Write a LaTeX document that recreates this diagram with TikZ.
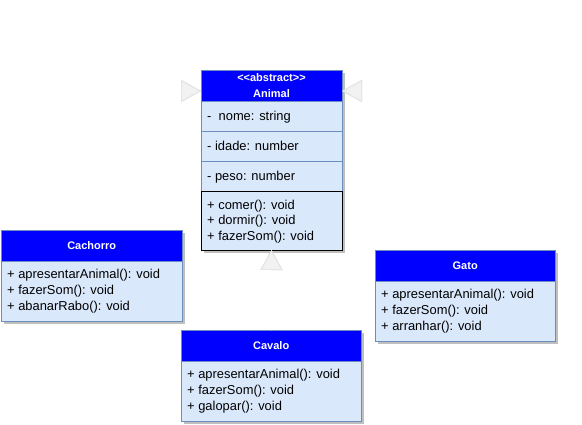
\documentclass[tikz,border=0pt]{standalone}
\usepackage{fontspec}
\setmainfont{Liberation Sans}
\usetikzlibrary{arrows.meta,shadows}
\definecolor{hdrblue}{HTML}{0000FF}
\definecolor{bodyfill}{HTML}{DAE8FC}
\definecolor{bodyline}{HTML}{6C8EBF}
\definecolor{tipfill}{HTML}{F2F2F2}
\definecolor{tipline}{HTML}{E6E6E6}
\tikzset{
  shd/.style={drop shadow={shadow xshift=3pt,shadow yshift=-3pt,fill=black,opacity=0.25}},
  hdr/.style={draw=bodyline,fill=hdrblue,rectangle,anchor=north west,inner sep=0pt},
  hdrtxt/.style={inner sep=0pt,text=white,font=\fontsize{11}{13}\selectfont\bfseries},
  bodybox/.style={draw=bodyline,fill=bodyfill,rectangle,anchor=north west,inner sep=0pt},
  mbox/.style={draw=black,fill=bodyfill,rectangle,anchor=north west,inner sep=0pt},
  attr/.style={inner sep=0pt,anchor=base west,font=\fontsize{12.9}{15}\selectfont},
  inh/.style={draw=white,line width=1pt,-{Triangle[length=20pt,width=22pt,fill=tipfill,color=tipline]}},
  inhshd/.style={draw=white,line width=1pt,-{Triangle[length=20pt,width=22pt,fill=black!22,color=black!22]}},
}
\begin{document}
\begin{tikzpicture}[x=1pt,y=-1pt]
\useasboundingbox (0,0) rectangle (582,424);
% Animal
\node[hdr,shd,minimum width=141pt,minimum height=31pt] (anH) at (201,70) {};
\node[hdrtxt,anchor=base] (anS) at (271.5,81) {\textless{}\textless{}abstract\textgreater{}\textgreater{}};
\node[hdrtxt,anchor=base] (anN) at (271.5,97) {Animal};
\node[bodybox,shd,minimum width=141pt,minimum height=30pt] (anA1) at (201,101) {};
\node[bodybox,shd,minimum width=141pt,minimum height=30pt] (anA2) at (201,131) {};
\node[bodybox,shd,minimum width=141pt,minimum height=30pt] (anA3) at (201,161) {};
\node[attr] (anT1) at (207,120.5) {-\ \ nome: string};
\node[attr] (anT2) at (207,150.5) {- idade: number};
\node[attr] (anT3) at (207,180.5) {- peso: number};
\node[mbox,shd,minimum width=141pt,minimum height=59pt] (anM) at (201,191) {};
\node[attr] (anM1) at (207,209) {+ comer(): void};
\node[attr] (anM2) at (207,224.5) {+ dormir(): void};
\node[attr] (anM3) at (207,240) {+ fazerSom(): void};
% Cachorro
\node[hdr,shd,minimum width=181pt,minimum height=31pt] (caH) at (1,230) {};
\node[hdrtxt] (caN) at (caH.center) {Cachorro};
\node[bodybox,shd,minimum width=181pt,minimum height=60pt] (caB) at (1,261) {};
\node[attr] (caT1) at (7,278.5) {+ apresentarAnimal(): void};
\node[attr] (caT2) at (7,294.5) {+ fazerSom(): void};
\node[attr] (caT3) at (7,310.5) {+ abanarRabo(): void};
% Gato
\node[hdr,shd,minimum width=180pt,minimum height=31pt] (gaH) at (375,250) {};
\node[hdrtxt] (gaN) at (gaH.center) {Gato};
\node[bodybox,shd,minimum width=180pt,minimum height=60pt] (gaB) at (375,281) {};
\node[attr] (gaT1) at (381,298.5) {+ apresentarAnimal(): void};
\node[attr] (gaT2) at (381,314.5) {+ fazerSom(): void};
\node[attr] (gaT3) at (381,330.5) {+ arranhar(): void};
% Cavalo
\node[hdr,shd,minimum width=180pt,minimum height=31pt] (cvH) at (181,330) {};
\node[hdrtxt] (cvN) at (cvH.center) {Cavalo};
\node[bodybox,shd,minimum width=180pt,minimum height=60pt] (cvB) at (181,361) {};
\node[attr] (cvT1) at (187,378.5) {+ apresentarAnimal(): void};
\node[attr] (cvT2) at (187,394.5) {+ fazerSom(): void};
\node[attr] (cvT3) at (187,410.5) {+ galopar(): void};
% inheritance connectors (white lines, light triangles)
\coordinate (tipL) at (201,91);
\coordinate (tipR) at (342,91);
\coordinate (tipB) at (271.5,250);
\begin{scope}[shift={(2,2)}]
\draw[inhshd] (caH.north) |- (tipL);
\draw[inhshd] (gaH.north) |- (tipR);
\draw[inhshd] (cvH.north) -- (tipB);
\end{scope}
\draw[inh] (caH.north) |- (tipL);
\draw[inh] (gaH.north) |- (tipR);
\draw[inh] (cvH.north) -- (tipB);
\end{tikzpicture}
\end{document}
